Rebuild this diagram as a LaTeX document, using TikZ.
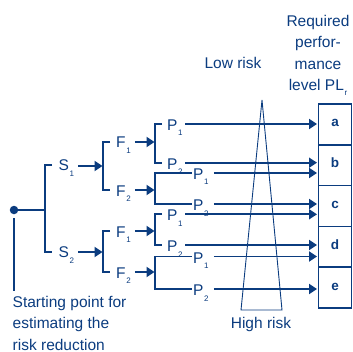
\documentclass[tikz,border=0pt]{standalone}
\usepackage{fontspec}
\setmainfont{Liberation Sans}
\usetikzlibrary{arrows.meta}
\definecolor{dblue}{HTML}{0B3C7F}
\newcommand\lowsub[1]{\kern0.6pt\lower5.5pt\hbox{\fontsize{8}{8}\selectfont #1}}
\begin{document}
\begin{tikzpicture}[x=1pt,y=-1pt,
  every node/.style={text=dblue, font=\fontsize{15.5}{21.3}\selectfont, inner sep=0pt},
  ln/.style={draw=dblue, line width=1.8pt},
  arr/.style={ln, -{Triangle[length=8pt,width=10pt]}},
  thinln/.style={draw=dblue, line width=0.9pt},
  vln/.style={draw=dblue, line width=1.2pt},
  lbl/.style={anchor=base west},
  plbox/.style={draw=dblue, line width=1.6pt, minimum width=33pt, minimum height=40.8pt, outer sep=0pt},
  boxletter/.style={anchor=base, font=\fontsize{13.5}{14}\selectfont\bfseries},
]
\useasboundingbox (0,0) rectangle (352,352);
% PL boxes
\foreach \n/\l [count=\i from 0] in {ba/a,bb/b,bc/c,bd/d,be/e}{
  \node[plbox, anchor=north west] (\n) at (318.5, 104+\i*40.8) {};
  \node[boxletter] (l\n) at ([yshift=-2.5pt]\n.center) {\l};
}
% header texts
\node[anchor=north, align=center] (req) at (318,15) {Required\\perfor-\\mance\\level PL\lowsub{r}};
\node[anchor=base] (low) at (233,68.5) {Low risk};
\node[anchor=base] (high) at (261,328.5) {High risk};
% risk funnel
\coordinate (tapex) at (262,100);
\coordinate (tl) at (241,310);
\coordinate (tr) at (282,310);
\draw[thinln] (tapex) -- (tl) -- (tr) -- cycle;
% start point
\node[circle, fill=dblue, minimum size=8.5pt] (dot) at (14,210) {};
\node[anchor=north west, align=left] (start) at (12.5,296) {Starting point for\\estimating the\\risk reduction};
\draw[vln] ([yshift=-4pt]dot.south) -- ([yshift=5pt]dot |- start.north);
% S level
\coordinate (sb) at (45,210);
\draw[ln] (dot) -- (sb);
\draw[ln] (52,165) -- (45,165) -- (45,252) -- (52,252);
\node[lbl] (s1) at (58.5,171) {S\lowsub1};
\node[lbl] (s2) at (58.5,257.5) {S\lowsub2};
\coordinate (f1v) at (102.5,166);
\coordinate (f2v) at (102.5,252);
\draw[arr] ([xshift=4pt]s1.east |- f1v) -- (f1v);
\draw[arr] ([xshift=4pt]s2.east |- f2v) -- (f2v);
% F level
\draw[ln] (110,142) -- (103,142) -- (103,190) -- (110,190);
\draw[ln] (110,231) -- (103,231) -- (103,272) -- (110,272);
\node[lbl] (f11) at (116,148) {F\lowsub1};
\node[lbl] (f12) at (116,196) {F\lowsub2};
\node[lbl] (f21) at (116,237) {F\lowsub1};
\node[lbl] (f22) at (116,278) {F\lowsub2};
\coordinate (p1v) at (154.5,142);
\coordinate (p2v) at (154.5,190);
\coordinate (p3v) at (154.5,231);
\coordinate (p4v) at (154.5,272);
\draw[arr] ([xshift=4pt]f11.east |- p1v) -- (p1v);
\draw[arr] ([xshift=4pt]f12.east |- p2v) -- (p2v);
\draw[arr] ([xshift=4pt]f21.east |- p3v) -- (p3v);
\draw[arr] ([xshift=4pt]f22.east |- p4v) -- (p4v);
% targets
\coordinate (ta)  at (317,124);
\coordinate (tb1) at (317,162.7);
\coordinate (tb2) at (317,173);
\coordinate (tc1) at (317,204);
\coordinate (tc2) at (317,214.3);
\coordinate (td1) at (317,245);
\coordinate (td2) at (317,256.5);
\coordinate (te)  at (317,289);
% P brackets, group 1
\draw[ln] (162,124) -- (155,124) -- (155,162.7) -- (162,162.7);
\node[lbl] (p11) at (167,130.5) {P\lowsub1};
\node[lbl] (p12) at (167,169.2) {P\lowsub2};
\draw[arr] ([xshift=2.5pt]p11.east |- ta) -- (ta);
\draw[arr] ([xshift=2.5pt]p12.east |- tb1) -- (tb1);
% group 2
\node[lbl] (p21) at (193,179.5) {P\lowsub1};
\node[lbl] (p22) at (193,210.5) {P\lowsub2};
\draw[ln] ([xshift=-1.5pt]p21.west |- tb2) -- (155,173) -- (155,204) -- ([xshift=-1.5pt]p22.west |- tc1);
\draw[arr] ([xshift=5pt]p21.east |- tb2) -- (tb2);
\draw[arr] ([xshift=5pt]p22.east |- tc1) -- (tc1);
% group 3
\draw[ln] (162,214.3) -- (155,214.3) -- (155,245) -- (162,245);
\node[lbl] (p31) at (167,220.8) {P\lowsub1};
\node[lbl] (p32) at (167,251.5) {P\lowsub2};
\draw[arr] ([xshift=2.5pt]p31.east |- tc2) -- (tc2);
\draw[arr] ([xshift=2.5pt]p32.east |- td1) -- (td1);
% group 4
\node[lbl] (p41) at (193,263) {P\lowsub1};
\node[lbl] (p42) at (193,295.5) {P\lowsub2};
\draw[ln] ([xshift=-1.5pt]p41.west |- td2) -- (155,256.5) -- (155,289) -- ([xshift=-1.5pt]p42.west |- te);
\draw[arr] ([xshift=5pt]p41.east |- td2) -- (td2);
\draw[arr] ([xshift=5pt]p42.east |- te) -- (te);
\end{tikzpicture}
\end{document}
